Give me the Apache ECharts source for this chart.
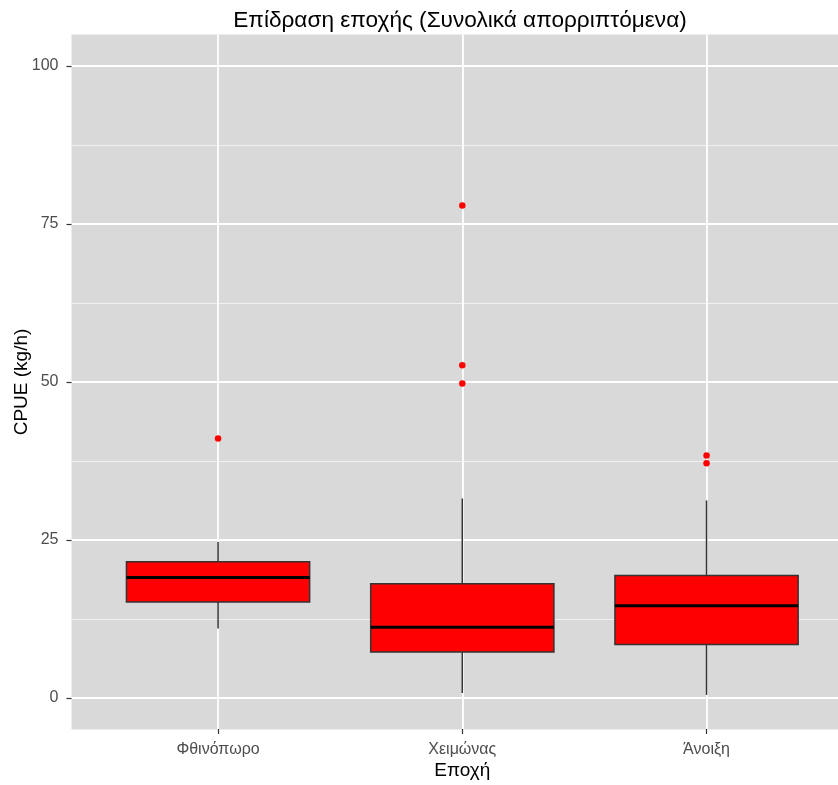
<!DOCTYPE html>
<html>
<head>
<meta charset="utf-8">
<title>Επίδραση εποχής</title>
<script src="https://cdn.jsdelivr.net/npm/echarts@6/dist/echarts.min.js"></script>
<style>
  html, body { margin: 0; padding: 0; background: #ffffff; }
  #chart { width: 838px; height: 785px; }
</style>
</head>
<body>
<div id="chart"></div>
<script>
// Seasons on the x axis
const categories = ['Φθινόπωρο', 'Χειμώνας', 'Άνοιξη'];

// Box statistics per season (CPUE, kg/h)
const whiskerLow  = [10.9, 0.7, 0.4];
const q1Values    = [15.1, 7.2, 8.4];
const medians     = [19.0, 11.1, 14.5];
const q3Values    = [21.5, 18.0, 19.3];
const whiskerHigh = [24.6, 31.5, 31.2];

// Outlying observations per season
const outliers = [
  [41.0],
  [77.9, 52.6, 49.7],
  [38.3, 37.1]
];

// Value axis: labelled ticks and the padded panel range
const yTickMin = 0;
const yTickMax = 100;
const yTickStep = 25;
const yPanelMin = -5;
const yPanelMax = 105;

const FONT = "'Liberation Sans', Arial, sans-serif";
const PANEL = '#D9D9D9';
const GRID_MAJOR = '#FFFFFF';
const GRID_MINOR = '#F0F0F0';
const BOX_WIDTH = 0.75; // fraction of the category spacing

const boxData = categories.map((c, i) => [
  i, whiskerLow[i], q1Values[i], medians[i], q3Values[i], whiskerHigh[i]
]);

const outlierData = [];
outliers.forEach((vals, i) => vals.forEach(v => outlierData.push([i, v])));

// panel geometry
const panelLeft = 71.5;
const panelTop = 34.4;
const panelHeight = 695.2;
const pxPerUnit = panelHeight / (yPanelMax - yPanelMin);
const spacing = 244.25;

const chart = echarts.init(document.getElementById('chart'), null, { renderer: 'canvas' });

chart.setOption({
  animation: false,
  backgroundColor: '#ffffff',
  title: {
    text: 'Επίδραση εποχής (Συνολικά απορριπτόμενα)',
    left: 460,
    top: 9,
    padding: 0,
    textAlign: 'center',
    textStyle: { fontFamily: FONT, fontSize: 22.6, fontWeight: 'normal', color: '#000000' }
  },
  grid: [
    { // panel background
      left: panelLeft, top: panelTop, width: spacing * 3.2, height: panelHeight,
      show: true, backgroundColor: PANEL, borderWidth: 0, containLabel: false
    },
    { // horizontal grid lines and labelled value ticks
      left: panelLeft,
      top: panelTop + (yPanelMax - yTickMax) * pxPerUnit,
      width: spacing * 3.2,
      height: (yTickMax - yTickMin) * pxPerUnit,
      show: false, containLabel: false
    },
    { // boxes, centred on the category positions
      left: panelLeft + spacing * 0.6, top: panelTop,
      width: spacing * 2, height: panelHeight,
      show: false, containLabel: false
    }
  ],
  xAxis: [
    { type: 'value', gridIndex: 0, show: false, min: 0, max: 1 },
    { type: 'value', gridIndex: 1, show: false, min: 0, max: 1 },
    {
      type: 'category', gridIndex: 2, data: categories, boundaryGap: false,
      position: 'bottom',
      name: 'Εποχή', nameLocation: 'middle', nameGap: 32, nameMoveOverlap: false,
      nameTextStyle: { fontFamily: FONT, fontSize: 19, color: '#000000' },
      axisLine: { show: false, onZero: false },
      axisTick: { show: true, length: 5, lineStyle: { color: '#333333', width: 1.2 } },
      axisLabel: { margin: 13, fontFamily: FONT, fontSize: 16, color: '#4D4D4D' },
      splitLine: { show: true, lineStyle: { color: GRID_MAJOR, width: 1.8 } }
    }
  ],
  yAxis: [
    { type: 'value', gridIndex: 0, show: false, min: yPanelMin, max: yPanelMax, splitLine: { show: false } },
    {
      type: 'value', gridIndex: 1, min: yTickMin, max: yTickMax, interval: yTickStep,
      name: 'CPUE (kg/h)', nameLocation: 'middle', nameGap: 40, nameRotate: 90,
      nameMoveOverlap: false,
      nameTextStyle: { fontFamily: FONT, fontSize: 19, color: '#000000' },
      axisLine: { show: false, onZero: false },
      axisTick: { show: true, length: 5, lineStyle: { color: '#333333', width: 1.2 } },
      axisLabel: { margin: 13, fontFamily: FONT, fontSize: 16, color: '#4D4D4D' },
      splitLine: { show: true, lineStyle: { color: GRID_MAJOR, width: 1.8 } },
      minorTick: { show: false, splitNumber: 2 },
      minorSplitLine: { show: true, lineStyle: { color: GRID_MINOR, width: 1.2 } }
    },
    { type: 'value', gridIndex: 2, show: false, min: yPanelMin, max: yPanelMax, splitLine: { show: false } }
  ],
  series: [
    {
      type: 'custom',
      xAxisIndex: 2,
      yAxisIndex: 2,
      data: boxData,
      encode: { x: 0, y: [1, 2, 3, 4, 5] },
      z: 3,
      renderItem: function (params, api) {
        const i = api.value(0);
        const lo = api.coord([i, api.value(1)]);
        const q1 = api.coord([i, api.value(2)]);
        const md = api.coord([i, api.value(3)]);
        const q3 = api.coord([i, api.value(4)]);
        const hi = api.coord([i, api.value(5)]);
        const step = Math.abs(api.coord([1, 0])[0] - api.coord([0, 0])[0]);
        const half = step * BOX_WIDTH / 2;
        const x = q1[0];
        const whiskerStyle = { stroke: '#333333', lineWidth: 1.5 };
        return {
          type: 'group',
          children: [
            { type: 'line', shape: { x1: x, y1: q3[1], x2: x, y2: hi[1] }, style: whiskerStyle },
            { type: 'line', shape: { x1: x, y1: q1[1], x2: x, y2: lo[1] }, style: whiskerStyle },
            {
              type: 'rect',
              shape: { x: x - half, y: q3[1], width: half * 2, height: q1[1] - q3[1] },
              style: { fill: '#FF0000', stroke: '#333333', lineWidth: 1.5 }
            },
            {
              type: 'line',
              shape: { x1: x - half, y1: md[1], x2: x + half, y2: md[1] },
              style: { stroke: '#000000', lineWidth: 3 }
            }
          ]
        };
      }
    },
    {
      type: 'scatter',
      xAxisIndex: 2,
      yAxisIndex: 2,
      data: outlierData,
      symbol: 'circle',
      symbolSize: 6.5,
      itemStyle: { color: '#FF0000', borderWidth: 0, opacity: 1 },
      z: 4
    }
  ]
});
</script>
</body>
</html>
